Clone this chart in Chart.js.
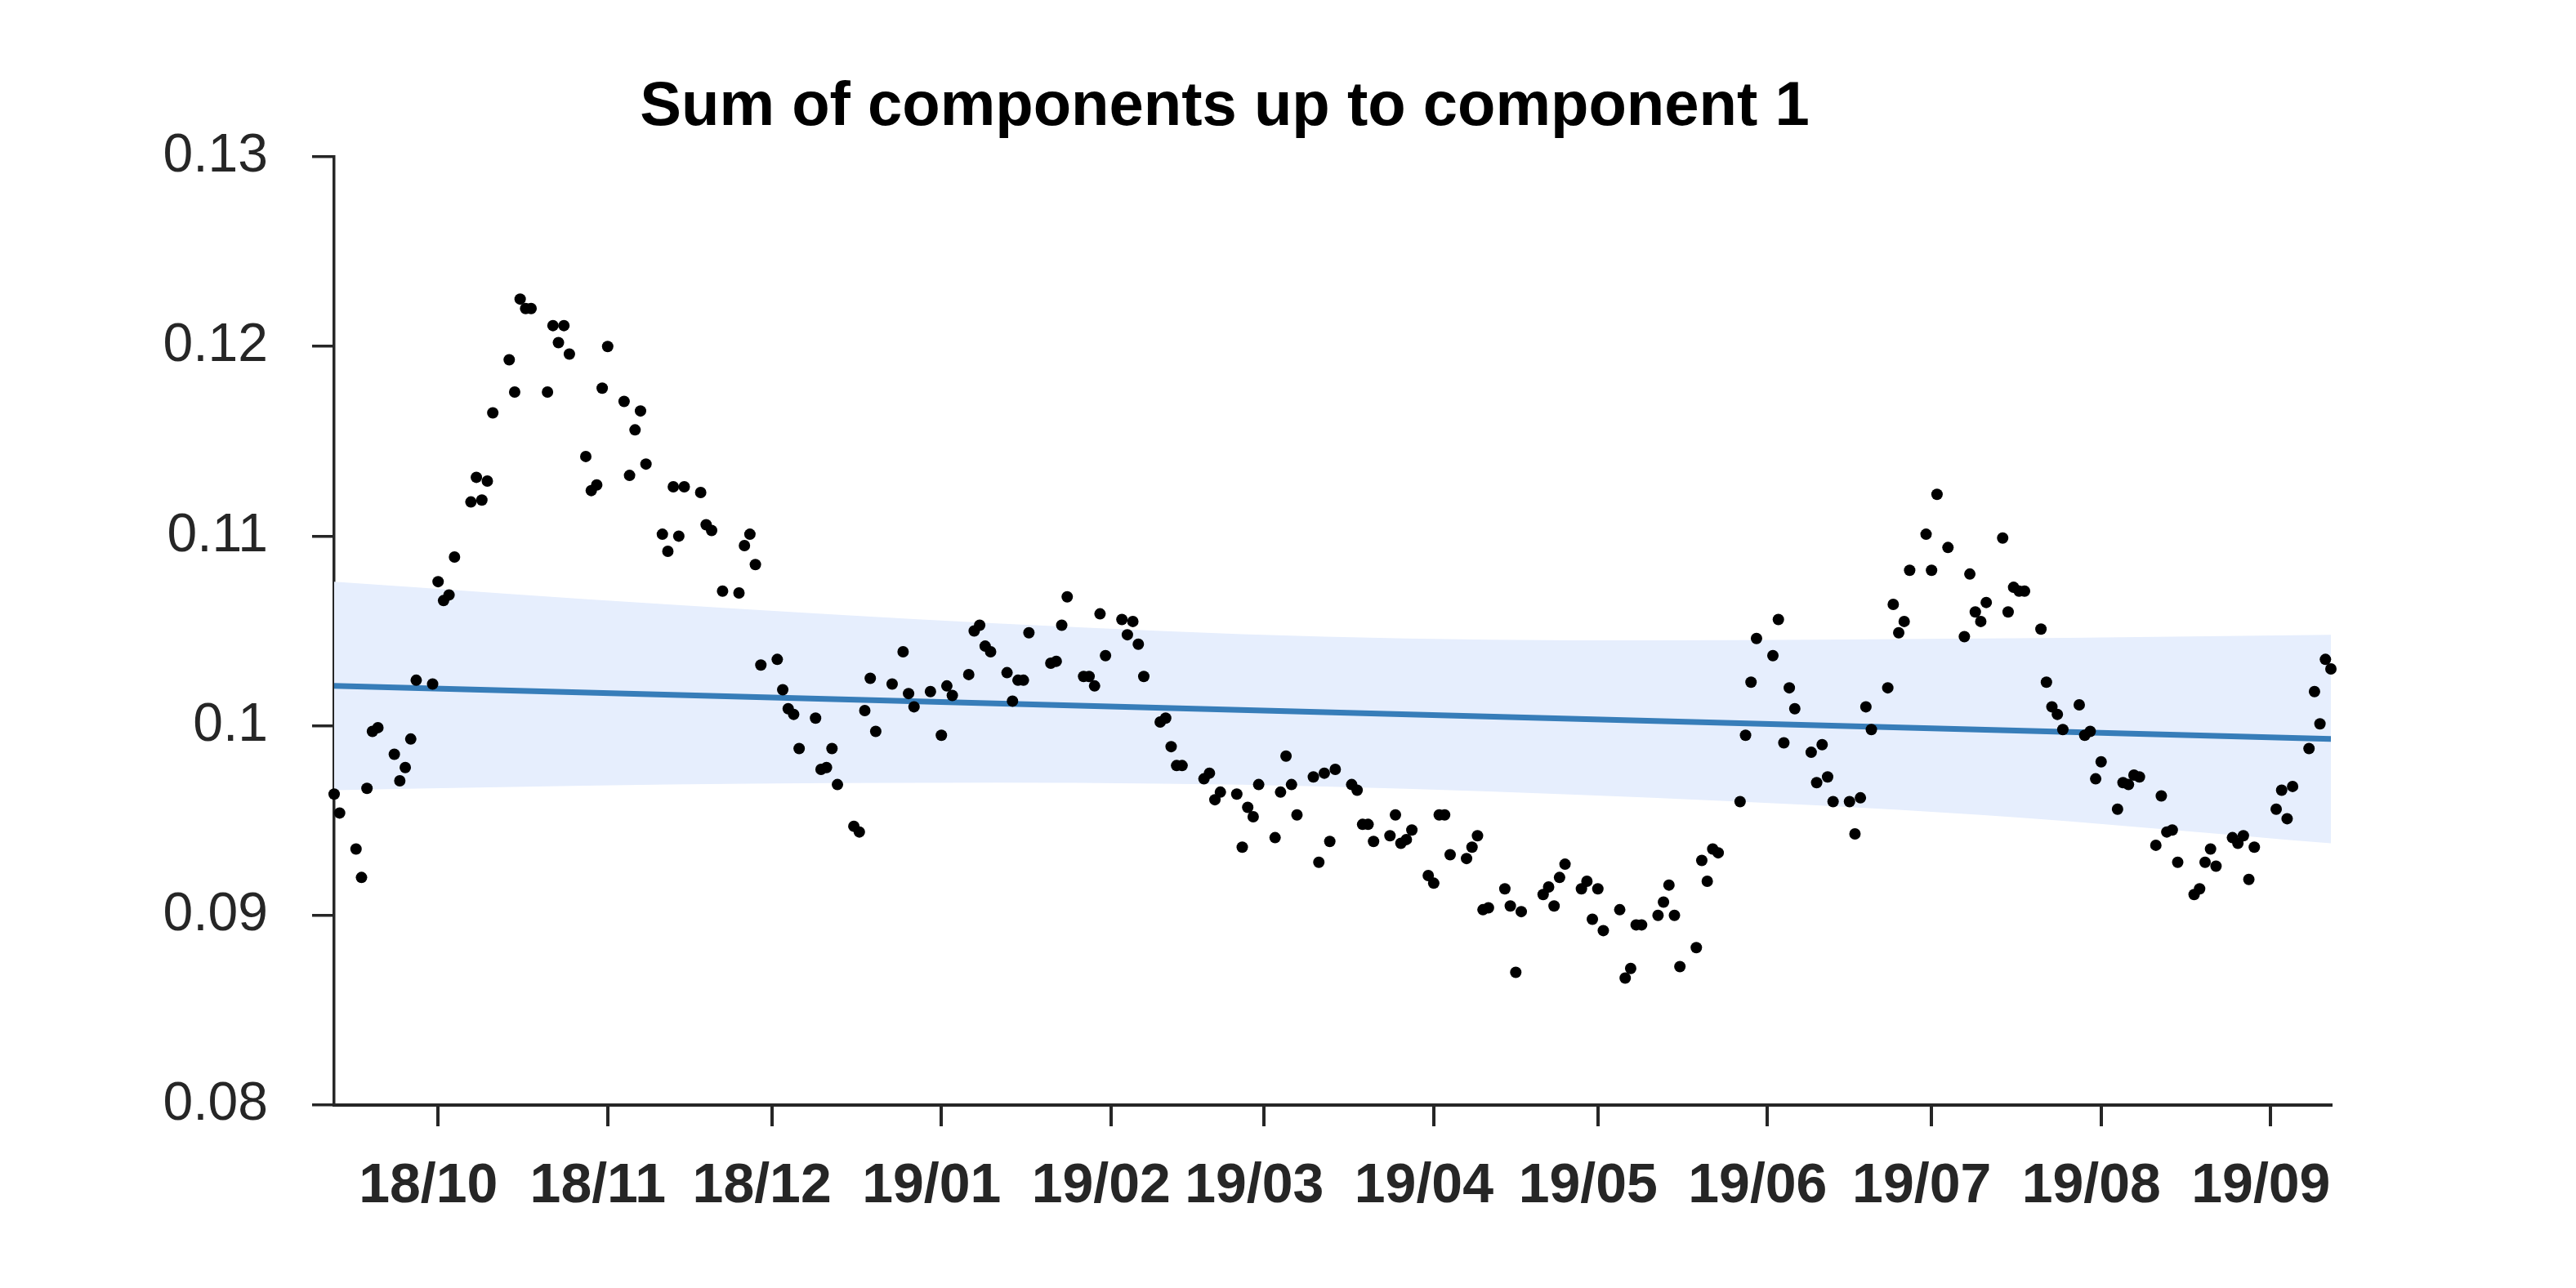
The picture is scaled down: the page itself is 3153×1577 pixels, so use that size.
<!DOCTYPE html>
<html>
<head>
<meta charset="utf-8">
<script src="https://cdn.jsdelivr.net/npm/chart.js@4/dist/chart.umd.min.js"></script>
<style>
  html, body { margin: 0; padding: 0; background: #fff; }
  #wrap { width: 3153px; height: 1577px; }
</style>
</head>
<body>
<div id="wrap"><canvas id="comp_chart"></canvas></div>
<script>
// days counted from 2018-10-01
const days = [
  -19, -18, -15, -14, -13, -12, -11, -8, -7, -6, -5, -4, -1, 0, 1, 2, 3,
  6, 7, 8, 9, 10, 13, 14, 15, 16, 17, 20, 21, 22, 23, 24, 27, 28, 29, 30, 31,
  34, 35, 36, 37, 38, 41, 42, 43, 44, 45, 48, 49, 50, 52, 55, 56, 57, 58, 59,
  62, 63, 64, 65, 66, 69, 70, 71, 72, 73, 76, 77, 78, 79, 80, 83, 85, 86, 87,
  90, 92, 93, 94, 97, 98, 99, 100, 101, 104, 105, 106, 107, 108, 112, 113, 114, 115,
  118, 119, 120, 121, 122, 125, 126, 127, 128, 129, 132, 133, 134, 135, 136,
  140, 141, 142, 143, 146, 147, 148, 149, 150, 153, 154, 155, 156, 157,
  160, 161, 162, 163, 164, 167, 168, 169, 170, 171, 174, 175, 176, 177, 178,
  181, 182, 183, 184, 185, 188, 189, 190, 191, 192, 195, 196, 197, 198,
  202, 203, 204, 205, 206, 209, 210, 211, 212, 213, 216, 217, 218, 219, 220,
  223, 224, 225, 226, 227, 230, 231, 232, 233, 234, 238, 239, 240, 241,
  244, 245, 246, 247, 248, 251, 252, 253, 254, 255, 258, 259, 260, 261, 262,
  265, 266, 267, 268, 269, 272, 273, 274, 276, 279, 280, 281, 282, 283,
  286, 287, 288, 289, 290, 293, 294, 295, 296, 297, 300, 301, 302, 303, 304,
  307, 308, 309, 310, 311, 314, 315, 316, 317, 318, 321, 322, 323, 324, 325,
  328, 329, 330, 331, 332, 336, 337, 338, 339, 342, 343, 344, 345, 346
];
const values = [
  0.0964, 0.0954, 0.0935, 0.0920, 0.0967, 0.0997, 0.0999, 0.0985, 0.0971, 0.0978, 0.0993, 0.1024, 0.1022, 0.1076, 0.1066, 0.1069, 0.1089,
  0.1118, 0.1131, 0.1119, 0.1129, 0.1165, 0.1193, 0.1176, 0.1225, 0.1220, 0.1220, 0.1176, 0.1211, 0.1202, 0.1211, 0.1196, 0.1142, 0.1124, 0.1127, 0.1178, 0.1200,
  0.1171, 0.1132, 0.1156, 0.1166, 0.1138, 0.1101, 0.1092, 0.1126, 0.1100, 0.1126, 0.1123, 0.1106, 0.1103, 0.1071, 0.1070, 0.1095, 0.1101, 0.1085, 0.1032,
  0.1035, 0.1019, 0.1009, 0.1006, 0.0988, 0.1004, 0.0977, 0.0978, 0.0988, 0.0969, 0.0947, 0.0944, 0.1008, 0.1025, 0.0997, 0.1022, 0.1039, 0.1017, 0.1010,
  0.1018, 0.0995, 0.1021, 0.1016, 0.1027, 0.1050, 0.1053, 0.1042, 0.1039, 0.1028, 0.1013, 0.1024, 0.1024, 0.1049, 0.1033, 0.1034, 0.1053, 0.1068,
  0.1026, 0.1026, 0.1021, 0.1059, 0.1037, 0.1056, 0.1048, 0.1055, 0.1043, 0.1026, 0.1002, 0.1004, 0.0989, 0.0979, 0.0979,
  0.0972, 0.0975, 0.0961, 0.0965, 0.0964, 0.0936, 0.0957, 0.0952, 0.0969, 0.0941, 0.0965, 0.0984, 0.0969, 0.0953,
  0.0973, 0.0928, 0.0975, 0.0939, 0.0977, 0.0969, 0.0966, 0.0948, 0.0948, 0.0939, 0.0942, 0.0953, 0.0938, 0.0940, 0.0945,
  0.0921, 0.0917, 0.0953, 0.0953, 0.0932, 0.0930, 0.0936, 0.0942, 0.0903, 0.0904, 0.0914, 0.0905, 0.0870, 0.0902,
  0.0911, 0.0915, 0.0905, 0.0920, 0.0927, 0.0914, 0.0918, 0.0898, 0.0914, 0.0892, 0.0903, 0.0867, 0.0872, 0.0895, 0.0895,
  0.0900, 0.0907, 0.0916, 0.0900, 0.0873, 0.0883, 0.0929, 0.0918, 0.0935, 0.0933, 0.0960, 0.0995, 0.1023, 0.1046,
  0.1037, 0.1056, 0.0991, 0.1020, 0.1009, 0.0986, 0.0970, 0.0990, 0.0973, 0.0960, 0.0960, 0.0943, 0.0962, 0.1010, 0.0998,
  0.1020, 0.1064, 0.1049, 0.1055, 0.1082, 0.1101, 0.1082, 0.1122, 0.1094, 0.1047, 0.1080, 0.1060, 0.1055, 0.1065,
  0.1099, 0.1060, 0.1073, 0.1071, 0.1071, 0.1051, 0.1023, 0.1010, 0.1006, 0.0998, 0.1011, 0.0995, 0.0997, 0.0972, 0.0981,
  0.0956, 0.0970, 0.0969, 0.0974, 0.0973, 0.0937, 0.0963, 0.0944, 0.0945, 0.0928, 0.0911, 0.0914, 0.0928, 0.0935, 0.0926,
  0.0941, 0.0938, 0.0942, 0.0919, 0.0936, 0.0956, 0.0966, 0.0951, 0.0968, 0.0988, 0.1018, 0.1001, 0.1035, 0.1030
];

// fitted trend and its band
const trendDays = [-19, 346];
const trendValues = [0.1021, 0.0993];
const bandDays = [-19, 42, 102, 162, 222, 282, 346];
const bandUpper = [0.1076, 0.1064, 0.1054, 0.1047, 0.1045, 0.1046, 0.1048];
const bandLower = [0.0966, 0.0969, 0.0970, 0.0968, 0.0962, 0.0953, 0.0938];

// axes
const xTickDays = [0, 31, 61, 92, 123, 151, 182, 212, 243, 273, 304, 335];
const xTickLabels = ["18/10", "18/11", "18/12", "19/01", "19/02", "19/03",
                     "19/04", "19/05", "19/06", "19/07", "19/08", "19/09"];
const yTicks = [0.08, 0.09, 0.1, 0.11, 0.12, 0.13];
const yTickLabels = ["0.08", "0.09", "0.1", "0.11", "0.12", "0.13"];

const titleText = "Sum of components up to component 1";
const axisColor = "#262626";

function toPoints(xs, ys) {
    return xs.map((x, i) => ({ x: x, y: ys[i] }));
}

// title is not centred on the canvas, so draw it ourselves
const titlePlugin = {
    id: "plotTitle",
    afterDraw(chart) {
        const ctx = chart.ctx;
        ctx.save();
        ctx.fillStyle = "#000";
        ctx.font = "bold 76px 'Liberation Sans', Arial, sans-serif";
        ctx.textAlign = "center";
        ctx.textBaseline = "alphabetic";
        ctx.fillText(titleText, 1499, 153);
        ctx.restore();
    }
};

const canvas = document.querySelector("#comp_chart").getContext("2d");
const chart = new Chart(canvas, {
    type: "scatter",
    data: {
        datasets: [
            {
                label: "data",
                data: toPoints(days, values),
                pointRadius: 7,
                pointBackgroundColor: "#000",
                pointBorderWidth: 0,
                showLine: false,
                clip: false,
                order: 0
            },
            {
                label: "trend",
                data: toPoints(trendDays, trendValues),
                showLine: true,
                borderColor: "#377db9",
                borderWidth: 7,
                pointRadius: 0,
                order: 1
            },
            {
                label: "upper",
                data: toPoints(bandDays, bandUpper),
                showLine: true,
                borderWidth: 0,
                borderColor: "rgba(0,0,0,0)",
                pointRadius: 0,
                cubicInterpolationMode: "monotone",
                fill: false,
                order: 2
            },
            {
                label: "lower",
                data: toPoints(bandDays, bandLower),
                showLine: true,
                borderWidth: 0,
                borderColor: "rgba(0,0,0,0)",
                backgroundColor: "#e6eefd",
                pointRadius: 0,
                cubicInterpolationMode: "monotone",
                fill: "-1",
                order: 3
            }
        ]
    },
    options: {
        responsive: true,
        maintainAspectRatio: false,
        devicePixelRatio: 1,
        animation: false,
        events: [],
        layout: { padding: { top: 192, right: 300, left: 0, bottom: 0 } },
        plugins: {
            legend: { display: false },
            title: { display: false },
            tooltip: { enabled: false }
        },
        scales: {
            x: {
                type: "linear",
                min: -19,
                max: 346,
                afterBuildTicks: scale => {
                    scale.ticks = xTickDays.map(v => ({ value: v }));
                },
                afterFit: scale => { scale.height = 224; },
                border: { display: true, color: axisColor, width: 4 },
                grid: {
                    drawOnChartArea: false,
                    drawTicks: true,
                    tickLength: 26,
                    color: axisColor,
                    lineWidth: 4
                },
                ticks: {
                    autoSkip: false,
                    maxRotation: 0,
                    padding: 33,
                    labelOffset: -12,
                    color: axisColor,
                    font: { family: "'Liberation Sans', Arial, sans-serif", size: 68, weight: "bold" },
                    callback: v => xTickLabels[xTickDays.indexOf(v)]
                }
            },
            y: {
                min: 0.08,
                max: 0.13,
                afterBuildTicks: scale => {
                    scale.ticks = yTicks.map(v => ({ value: v }));
                },
                afterFit: scale => { scale.width = 409; },
                border: { display: true, color: axisColor, width: 3.5 },
                grid: {
                    drawOnChartArea: false,
                    drawTicks: true,
                    tickLength: 27,
                    color: axisColor,
                    lineWidth: 3.5
                },
                ticks: {
                    padding: 54,
                    color: axisColor,
                    font: { family: "'Liberation Sans', Arial, sans-serif", size: 66 },
                    callback: v => yTickLabels[yTicks.indexOf(v)]
                }
            }
        }
    },
    plugins: [titlePlugin]
});
</script>
</body>
</html>
